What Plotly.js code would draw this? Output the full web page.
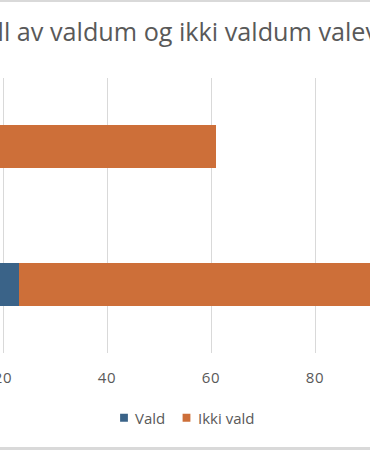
<!DOCTYPE html>
<html>
<head>
<meta charset="utf-8">
<script src="https://cdn.plot.ly/plotly-3.0.1.min.js"></script>
<style>
html,body{margin:0;padding:0;width:370px;height:450px;overflow:hidden;background:#fff;}
#frame{position:absolute;left:0;top:0;width:370px;height:450px;overflow:hidden;}
#topline{position:absolute;left:0;top:0;width:370px;height:2px;background:#d9d9d9;}
#botline{position:absolute;left:0;top:447px;width:370px;height:3px;background:#d9d9d9;}
#chart{position:absolute;left:-200px;top:2px;width:800px;height:445px;}
.xtick text{letter-spacing:0.6px;}
</style>
</head>
<body>
<div id="frame">
<div id="chart"></div>
<div id="topline"></div>
<div id="botline"></div>
</div>
<script>
const categories = ["Menn", "Kvinnur"];
const valdValues = [23, 10];
const ikkiValdValues = [90, 51];
const xTickValues = [0, 20, 40, 60, 80, 100, 120];
const seriesNames = ["Vald", "Ikki vald"];
const titleText = "Tall av valdum og ikki valdum valevnum";

const traces = [
  {type:'bar', orientation:'h', y:categories, x:valdValues, name:seriesNames[0],
   marker:{color:'#3a6388'}, hoverinfo:'none'},
  {type:'bar', orientation:'h', y:categories, x:ikkiValdValues, name:seriesNames[1],
   marker:{color:'#cd6f39'}, hoverinfo:'none'}
];
const W = 800, H = 445, OFF = 200;
const layout = {
  width: W, height: H,
  barmode: 'stack', bargap: 0.687,
  paper_bgcolor: '#ffffff', plot_bgcolor: '#ffffff',
  margin: {l: 99, r: 77, t: 76, b: 94},
  font: {family: 'Open Sans, sans-serif', color: '#595959'},
  title: {text: titleText, font: {size: 25.2, color: '#595959', family: 'Open Sans, sans-serif'},
          xref: 'container', x: (201 + OFF) / W, xanchor: 'center',
          yref: 'container', y: 1 - 30 / H, yanchor: 'middle'},
  xaxis: {range: [0, 120], tickvals: xTickValues, showgrid: true, gridcolor: '#d9d9d9', gridwidth: 1,
          zeroline: false, showline: false, ticks: '', tickfont: {size: 15, color: '#595959'},
          ticklabelstandoff: 14, fixedrange: true},
  yaxis: {showgrid: false, zeroline: false, showline: false, ticks: '',
          tickfont: {size: 14, color: '#595959'}, fixedrange: true},
  showlegend: true,
  legend: {orientation: 'h', xref: 'container', x: (188 + OFF) / W, xanchor: 'center',
           yref: 'container', y: 1 - (418 - 2) / H, yanchor: 'middle',
           font: {size: 15, color: '#595959'}, traceorder: 'normal', itemwidth: 30}
};
// legend targets in page px: [symbol centre, text left]
const legendTargets = [[124, 135], [186.5, 198]];
Plotly.newPlot('chart', traces, layout, {staticPlot: true, displayModeBar: false}).then(function(gd){
  const groups = gd.querySelectorAll('.legend .traces');
  groups.forEach(function(g, i){
    const txt = g.querySelector('text.legendtext');
    const path = g.querySelector('.legendpoints path');
    if (!txt || !path) return;
    const r = txt.getBoundingClientRect();
    const dx = legendTargets[i][1] - r.left;
    const tr = g.getAttribute('transform') || '';
    const m = tr.match(/translate\(\s*([-\d.]+)[ ,]+([-\d.]+)\s*\)/);
    if (m) {
      g.setAttribute('transform', 'translate(' + (parseFloat(m[1]) + dx) + ',' + m[2] + ')');
    }
    const tx = parseFloat(txt.getAttribute('x')) || 40;
    path.setAttribute('transform', 'translate(' + (tx - (legendTargets[i][1] - legendTargets[i][0])) + ',0) scale(0.65)');
  });
});
</script>
</body>
</html>
